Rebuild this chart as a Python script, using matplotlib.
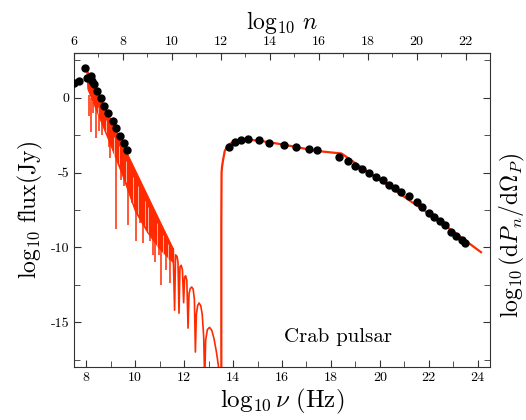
import matplotlib
matplotlib.use('Agg')
import matplotlib.pyplot as plt
from matplotlib.ticker import FuncFormatter

plt.rcParams['font.family'] = 'cmr10'
plt.rcParams['mathtext.fontset'] = 'cm'
plt.rcParams['axes.unicode_minus'] = False

red = '#ff2a00'

# observed fluxes (black dots)
obs_lognu = [7.50, 7.69, 7.94, 8.02, 8.19, 8.24, 8.30, 8.45, 8.60, 8.74, 8.90,
             9.08, 9.23, 9.36, 9.53, 9.66,
             13.84, 14.06, 14.31, 14.61, 15.07, 15.48, 16.08, 16.57, 17.09,
             17.41, 18.31, 18.68, 18.99, 19.26, 19.55, 19.83, 20.11, 20.39,
             20.61, 20.87, 21.17, 21.51, 21.71, 22.01, 22.23, 22.44, 22.68,
             22.89, 23.12, 23.35, 23.46]
obs_logflux = [1.02, 1.15, 1.97, 1.30, 1.48, 1.12, 0.95, 0.48, -0.03, -0.52,
               -1.01, -1.52, -2.01, -2.52, -3.01, -3.50,
               -3.27, -2.96, -2.79, -2.72, -2.81, -2.99, -3.14, -3.26, -3.43,
               -3.52, -3.97, -4.23, -4.57, -4.77, -5.01, -5.28, -5.52, -5.81,
               -6.01, -6.32, -6.59, -6.99, -7.32, -7.68, -7.99, -8.21, -8.50,
               -8.95, -9.25, -9.50, -9.72]

# low-frequency model: dense oscillating band (upper / lower edge)
band_lognu = [8.00, 8.05, 8.30, 8.60, 9.00, 9.50, 10.00, 10.50, 11.00, 11.55]
band_upper = [1.95, 1.78, 0.93, -0.09, -1.45, -3.15, -4.85, -6.55, -8.25, -10.1]
band_lower = [1.90, 0.60, -0.40, -1.60, -3.20, -5.30, -7.60, -9.00, -10.1, -11.0]

# deep minima sticking out of the band
spike_lognu = [8.11, 8.18, 8.27, 8.38, 8.54, 8.65, 8.92, 8.99, 9.23, 9.40,
               9.53, 9.70, 9.85, 10.02, 10.20, 10.31, 10.60, 10.72, 10.79,
               10.97, 11.07, 11.24, 11.41]
spike_top = [0.2, 0.0, -0.3, -0.6, -1.1, -1.5, -2.4, -2.7, -3.6, -4.4,
             -4.9, -5.7, -6.3, -7.0, -7.7, -8.0, -8.6, -8.9, -9.1,
             -9.4, -9.6, -9.9, -10.3]
spike_min = [-1.2, -2.3, -1.0, -2.7, -2.2, -2.5, -3.3, -4.0, -8.8, -5.5,
             -5.9, -8.5, -7.0, -9.6, -8.4, -9.7, -9.6, -10.5, -11.0,
             -10.5, -12.5, -11.5, -12.4]

# light streaks between the minima inside the band
gap_lognu = [8.46, 8.80, 9.15, 9.32, 9.62, 9.93, 10.12, 10.40, 10.52, 10.88, 11.15, 11.33]
gap_top = [-0.6, -1.5, -2.6, -3.2, -4.2, -5.3, -5.9, -6.9, -7.3, -8.4, -9.2, -9.8]
gap_bottom = [-1.2, -2.3, -3.9, -4.4, -5.6, -7.0, -7.8, -8.6, -9.0, -9.9, -10.4, -10.8]

# resolved lobes at the high-frequency end of the radio part
tail_lognu = [11.55, 11.61, 11.65, 11.71, 11.75, 11.79, 11.83, 11.88, 11.93,
              11.98, 12.02, 12.06, 12.11, 12.16, 12.20, 12.25, 12.31, 12.37,
              12.42, 12.46, 12.50, 12.55, 12.61, 12.68, 12.74, 12.80, 12.84,
              12.88, 12.95, 13.04, 13.13, 13.22, 13.32, 13.40, 13.45]
tail_logflux = [-10.1, -14.2, -10.5, -10.6, -11.0, -14.4, -11.3, -11.2, -11.5,
                -13.7, -12.0, -11.9, -12.2, -15.4, -13.1, -12.75, -12.65, -12.8,
                -13.5, -17.0, -14.5, -13.9, -13.72, -13.9, -14.5, -16.0, -19.0,
                -16.2, -15.5, -15.35, -15.55, -16.1, -17.0, -17.9, -19.0]

# high-energy model
he_lognu = [13.52, 13.52, 13.53, 13.55, 13.59, 13.66, 13.79, 14.00, 14.30,
            14.60, 15.05, 16.04, 17.41, 18.43, 19.45, 22.18, 24.13]
he_logflux = [-19.0, -8.2, -5.0, -4.6, -4.17, -3.55, -3.17, -2.95, -2.82,
              -2.80, -2.86, -3.12, -3.55, -3.72, -4.88, -7.95, -10.32]

fig = plt.figure(figsize=(5.26, 4.2), dpi=100)
ax = fig.add_axes([0.1407, 0.1262, 0.7909, 0.7476])

ax.fill_between(band_lognu, band_lower, band_upper, color=red, lw=0.8)
ax.vlines(gap_lognu, gap_bottom, gap_top, color='#ffb8a8', lw=0.7)
ax.vlines(spike_lognu, spike_min, spike_top, color=red, lw=1.1)
ax.plot(tail_lognu, tail_logflux, color=red, lw=1.2)
ax.plot(he_lognu, he_logflux, color=red, lw=1.6)
ax.plot(obs_lognu, obs_logflux, 'o', color='black', ms=5, zorder=5)

ax.set_xlim(7.5, 24.5)
ax.set_ylim(-18, 3)

ax.set_xticks(range(8, 25, 2))
ax.set_xticks(range(9, 25, 2), minor=True)
ax.set_yticks([-15, -10, -5, 0])
ax.set_yticks([-17.5, -12.5, -7.5, -2.5, 2.5], minor=True)
fmt = FuncFormatter(lambda v, p: f'{v:g}')
ax.xaxis.set_major_formatter(fmt)
ax.yaxis.set_major_formatter(fmt)
ax.tick_params(which='both', direction='in', right=True, top=False,
               labelsize=10, color='#333333')
ax.tick_params(which='major', length=5)
ax.tick_params(which='minor', length=4)

top = ax.secondary_xaxis('top', functions=(lambda x: x - 1.5, lambda x: x + 1.5))
top.set_xticks(range(6, 23, 2))
top.set_xticks(range(7, 23, 2), minor=True)
top.xaxis.set_major_formatter(fmt)
top.tick_params(which='both', direction='in', labelsize=10, color='#333333')
top.tick_params(which='major', length=5)
top.tick_params(which='minor', length=3)
top.set_xlabel(r'$\log_{10}\, n$', fontsize=17, labelpad=5)

ax.set_xlabel(r'$\log_{10}\nu\ \mathrm{(Hz)}$', fontsize=18, labelpad=2)
ax.set_ylabel(r'$\log_{10}\,\mathrm{flux(Jy)}$', fontsize=17, labelpad=4)
fig.text(0.975, 0.44, r'$\log_{10}(\mathrm{d}P_n/\mathrm{d}\Omega_P)$',
         fontsize=17, rotation=90, ha='center', va='center')
ax.text(18.3, -16.0, 'Crab pulsar', fontsize=15, ha='center', va='center')

for s in ax.spines.values():
    s.set_color('#333333')

fig.savefig('out.png', dpi=100)
